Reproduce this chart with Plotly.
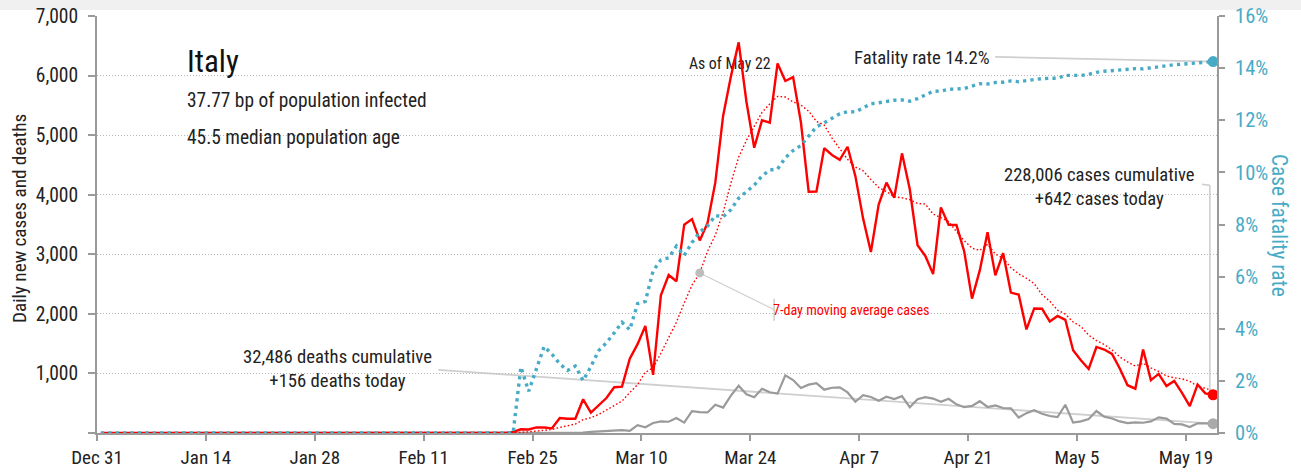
import pandas as pd
import plotly.graph_objects as go

# ---------------- data (ECDC reporting dates, Italy) ----------------
start_date = "2019-12-31"
end_date = "2020-05-22"
n_leading_zero_days = 53  # Dec 31 .. Feb 21 : nothing reported

cases_from_feb22 = [
    17, 62, 60, 95, 93, 78, 250, 238,
    240, 566, 342, 466, 587, 769, 778, 1247, 1492, 1797, 977, 2313, 2651, 2547, 3497, 3590,
    3233, 3526, 4207, 5322, 5986, 6557, 5560, 4789, 5249, 5210, 6203, 5909, 5974, 5217, 4050,
    4053, 4782, 4668, 4585, 4805, 4316, 3599, 3039, 3836, 4204, 3951, 4694, 4092, 3153, 2972,
    2667, 3786, 3493, 3491, 3047, 2256, 2729, 3370, 2646, 3021, 2357, 2324, 1739, 2091, 2086,
    1872, 1965, 1900, 1389, 1221, 1075, 1444, 1401, 1327, 1083, 802, 744, 1402, 888, 992,
    789, 875, 675, 451, 813, 665, 642,
]

deaths_from_feb22 = [
    1, 1, 1, 4, 3, 2, 5, 4,
    8, 5, 18, 27, 28, 41, 49, 36, 133, 97, 168, 196, 189, 250, 175, 368,
    349, 345, 475, 427, 627, 793, 651, 601, 743, 683, 662, 969, 889, 756, 812,
    837, 727, 760, 766, 681, 525, 636, 604, 542, 610, 570, 619, 431, 566, 602,
    578, 525, 575, 482, 433, 454, 534, 437, 464, 420, 415, 260, 333, 382, 323,
    285, 269, 474, 174, 195, 236, 369, 274, 243, 194, 165, 179, 172, 195, 262,
    242, 153, 145, 99, 162, 161, 156,
]

ma7_from_feb22 = [
    2.4, 11.3, 19.9, 33.4, 46.7, 57.9, 93.6, 125.1,
    150.6, 222.9, 258.1, 311.4, 384.1, 458.3, 535.4, 679.3, 811.6, 1019.4, 1092.4, 1339.0,
    1607.9, 1860.6, 2182.0, 2481.7, 2686.9, 3051.0, 3321.6, 3703.1, 4194.4, 4631.6, 4913.0,
    5135.3, 5381.4, 5524.7, 5650.6, 5639.6, 5556.3, 5507.3, 5401.7,
    5230.9, 5169.7, 4950.4, 4761.3, 4594.3, 4465.6, 4401.1, 4256.3, 4121.1, 4054.9, 3964.3,
    3948.4, 3916.4, 3852.7, 3843.1, 3676.1, 3616.4, 3551.0, 3379.1, 3229.9, 3101.7, 3067.0,
    3167.4, 3004.6, 2937.1, 2775.1, 2671.9, 2598.0, 2506.9, 2323.4,
    2212.9, 2062.0, 1996.7, 1863.1, 1789.1, 1644.0, 1552.3, 1485.0, 1393.9, 1277.1, 1193.3,
    1125.1, 1171.9, 1092.4, 1034.0, 957.1, 927.4, 909.3, 867.4, 783.3, 751.4, 701.4,
]

fatality_from_feb22 = [
    0.0, 2.53, 1.6, 2.46, 3.32, 3.02, 2.65, 2.4,
    2.57, 2.01, 2.55, 3.16, 3.46, 3.84, 4.25, 3.96, 4.96, 5.05, 6.22, 6.64, 6.72, 7.17, 6.81,
    7.31, 7.71, 7.94, 8.34, 8.30, 8.57, 9.01, 9.26, 9.51, 9.86, 10.09, 10.13, 10.56, 10.84,
    11.03, 11.39,
    11.75, 11.90, 12.07, 12.25, 12.33, 12.32, 12.47, 12.63, 12.67, 12.73, 12.77, 12.78, 12.73,
    12.83, 12.97, 13.11, 13.12, 13.19, 13.20, 13.22, 13.31, 13.40, 13.39, 13.45, 13.46, 13.51,
    13.48, 13.53, 13.58, 13.60,
    13.61, 13.61, 13.72, 13.71, 13.72, 13.76, 13.84, 13.88, 13.91, 13.93, 13.95, 13.98, 13.97,
    14.01, 14.06, 14.12, 14.13, 14.15, 14.17, 14.19, 14.22, 14.25,
]

left_tick_vals = [0, 1000, 2000, 3000, 4000, 5000, 6000, 7000]
left_tick_text = ["", "1,000", "2,000", "3,000", "4,000", "5,000", "6,000", "7,000"]
right_tick_vals = [0, 2, 4, 6, 8, 10, 12, 14, 16]
right_tick_text = ["0%", "2%", "4%", "6%", "8%", "10%", "12%", "14%", "16%"]

country = "Italy"
infected_text = "37.77 bp of population infected"
age_text = "45.5 median population age"
asof_text = "As of May 22"
cum_cases, today_cases = "228,006", "+642"
cum_deaths, today_deaths = "32,486", "+156"
fatality_label = "14.2%"
ma_point_date = "2020-03-17"

# ---------------- build series ----------------
dates = pd.date_range(start_date, end_date, freq="D") + pd.Timedelta(hours=12)
pad = [0] * n_leading_zero_days
cases = pad + cases_from_feb22
deaths = pad + deaths_from_feb22
ma7 = pad + ma7_from_feb22
fatality = pad + fatality_from_feb22

FONT = ("Noto Sans Condensed, Noto Sans SemiCondensed, Roboto Condensed, "
        "DejaVu Sans Condensed, Liberation Sans Narrow, Roboto, sans-serif")
RED = "#ff0000"
BLUE = "#47abc6"
GRAY = "#9a9a9a"
LIGHT = "#cfcfcf"
TEXT = "#222222"

fig = go.Figure()
# "As of" label sits underneath the case line, as in the original
fig.add_trace(go.Scatter(x=["2020-03-21 08:30"], y=[6175], mode="text", text=[asof_text],
                         textposition="middle center",
                         textfont=dict(family=FONT, size=15.8, color=TEXT), hoverinfo="skip"))
fig.add_trace(go.Scatter(x=dates, y=deaths, mode="lines", line=dict(color=GRAY, width=2.2),
                         hoverinfo="skip"))
fig.add_trace(go.Scatter(x=dates, y=ma7, mode="lines",
                         line=dict(color=RED, width=1.4, dash="1.6px,2.2px"), hoverinfo="skip"))
fig.add_trace(go.Scatter(x=dates, y=fatality, yaxis="y2", mode="lines",
                         line=dict(color=BLUE, width=3.4, dash="3.2px,4.2px"), hoverinfo="skip"))
fig.add_trace(go.Scatter(x=dates, y=cases, mode="lines", line=dict(color=RED, width=2.4),
                         hoverinfo="skip"))

# end-point markers
fig.add_trace(go.Scatter(x=[dates[-1]], y=[deaths[-1]], mode="markers",
                         marker=dict(color="#aaaaaa", size=11), hoverinfo="skip"))
fig.add_trace(go.Scatter(x=[dates[-1]], y=[cases[-1]], mode="markers",
                         marker=dict(color=RED, size=11), hoverinfo="skip"))
fig.add_trace(go.Scatter(x=[dates[-1]], y=[fatality[-1]], yaxis="y2", mode="markers",
                         marker=dict(color=BLUE, size=11), hoverinfo="skip"))

# moving-average callout point
ma_idx = list(dates.strftime("%Y-%m-%d")).index(ma_point_date)
fig.add_trace(go.Scatter(x=[dates[ma_idx]], y=[ma7[ma_idx]], mode="markers",
                         marker=dict(color="#bdbdbd", size=9), hoverinfo="skip"))

shapes = [
    # light band at very top of the page
    dict(type="rect", xref="paper", yref="paper", x0=-0.1, x1=1.1,
         y0=1 + 6 / 417, y1=1 + 17 / 417, fillcolor="#f0f0f0", line=dict(width=0), layer="below"),
    # fatality label connector
    dict(type="line", xref="x", yref="y2", x0="2020-04-24 11:30", y0=14.43,
         x1=dates[-1], y1=fatality[-1], line=dict(color=LIGHT, width=1.6), layer="below"),
    # deaths connector
    dict(type="line", xref="x", yref="y", x0="2020-02-12 21:00", y0=1060,
         x1=dates[-1], y1=deaths[-1], line=dict(color=LIGHT, width=1.8), layer="below"),
    # cases connector (elbow)
    dict(type="line", xref="x", yref="y", x0="2020-05-21 01:40", y0=4173,
         x1="2020-05-22 02:00", y1=4160, line=dict(color=LIGHT, width=1.6), layer="below"),
    dict(type="line", xref="x", yref="y", x0="2020-05-22 02:00", y0=4160,
         x1="2020-05-22 02:00", y1=cases[-1] + 40, line=dict(color=LIGHT, width=1.6), layer="below"),
    # moving average callout
    dict(type="line", xref="x", yref="y", x0=dates[ma_idx], y0=ma7[ma_idx],
         x1="2020-03-27 01:30", y1=2070, line=dict(color=LIGHT, width=1.2), layer="below"),
    dict(type="line", xref="x", yref="y", x0="2020-03-27 01:30", y0=1885,
         x1="2020-03-27 01:30", y1=2255, line=dict(color=LIGHT, width=1.6), layer="below"),
]


def px_x(px):
    return (px - 97) / 1120


def px_y(py):
    return (433 - py) / 417


annotations = [
    dict(text=country, x=px_x(186), y=px_y(62), xanchor="left", yanchor="middle",
         font=dict(size=31, color="#111111")),
    dict(text=infected_text, x=px_x(186), y=px_y(101), xanchor="left", yanchor="middle",
         font=dict(size=19.4, color=TEXT)),
    dict(text=age_text, x=px_x(186), y=px_y(137), xanchor="left", yanchor="middle",
         font=dict(size=19.4, color=TEXT)),
    dict(text="Fatality rate " + fatality_label, x=px_x(853), y=px_y(58), xanchor="left",
         yanchor="middle", font=dict(size=18.7, color=TEXT)),
    dict(text=cum_cases + " cases cumulative<br>" + today_cases + " cases today",
         x=px_x(1099), y=px_y(187), xanchor="center", yanchor="middle", align="center",
         font=dict(size=18.6, color=TEXT)),
    dict(text=cum_deaths + " deaths cumulative<br>" + today_deaths + " deaths today",
         x=px_x(337.5), y=px_y(369), xanchor="center", yanchor="middle", align="center",
         font=dict(size=18.7, color=TEXT)),
    dict(text="7-day moving average cases", x=px_x(772), y=px_y(310), xanchor="left",
         yanchor="middle", font=dict(size=14.1, color=RED)),
    dict(text="Daily new cases and deaths", x=px_x(19), y=px_y(219), xanchor="center",
         yanchor="middle", textangle=-90, font=dict(size=19.2, color=TEXT)),
    dict(text="Case fatality rate", x=px_x(1280), y=px_y(225), xanchor="center",
         yanchor="middle", textangle=90, font=dict(size=21.3, color=BLUE)),
]
for a in annotations:
    a.update(xref="paper", yref="paper", showarrow=False, borderpad=0)

fig.update_layout(
    width=1301, height=474,
    margin=dict(l=97, r=84, t=16, b=41, autoexpand=False),
    plot_bgcolor="white", paper_bgcolor="white",
    showlegend=False,
    font=dict(family=FONT, size=19, color=TEXT),
    shapes=shapes,
    annotations=annotations,
    xaxis=dict(
        type="date", range=["2019-12-31", "2020-05-23"], automargin=False,
        tick0="2019-12-31", dtick=14 * 86400000, tickformat="%b %-d",
        ticks="outside", ticklen=6, tickwidth=2, tickcolor=GRAY,
        showline=True, linecolor=GRAY, linewidth=2,
        showgrid=False, zeroline=False,
        tickfont=dict(size=19, color=TEXT),
    ),
    yaxis=dict(
        range=[0, 7000], tickvals=left_tick_vals, ticktext=left_tick_text, automargin=False,
        ticks="outside", ticklen=7, tickwidth=1.5, tickcolor=GRAY,
        showline=True, linecolor=GRAY, linewidth=2,
        showgrid=True, gridcolor="#b8b8b8", gridwidth=1, griddash="1px,2px",
        zeroline=False, tickfont=dict(size=19.5, color=TEXT), ticklabelstandoff=6,
    ),
    yaxis2=dict(
        overlaying="y", side="right", range=[0, 16], tickvals=right_tick_vals,
        ticktext=right_tick_text, automargin=False,
        ticks="outside", ticklen=6, tickwidth=1.5, tickcolor=GRAY,
        showline=True, linecolor=GRAY, linewidth=2, showgrid=False, zeroline=False,
        tickfont=dict(size=20.5, color=BLUE), ticklabelstandoff=6,
    ),
)

fig.write_html(
    "out.html",
    config={"displayModeBar": False},
    post_script="document.body.style.margin='0px';document.body.style.overflow='hidden';",
)
